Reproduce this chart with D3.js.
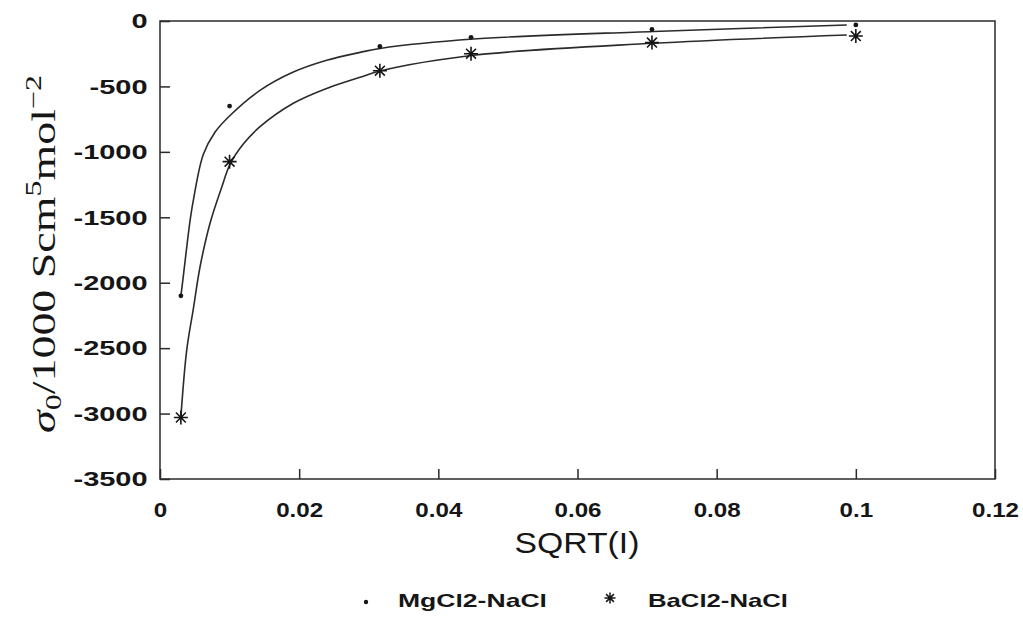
<!DOCTYPE html>
<html>
<head>
<meta charset="utf-8">
<script src="https://cdn.jsdelivr.net/npm/d3@7"></script>
<style>
  html, body { margin: 0; padding: 0; background: #fff; }
  svg { display: block; }
</style>
</head>
<body>
<svg id="chart" width="1023" height="629"></svg>
<script>
// Square root of ionic strength at each measurement
const sqrtI = [0.003, 0.01, 0.0316, 0.0447, 0.0707, 0.1];
// Measured sigma0 / 1000 for each system
const mgValues = [-2100, -650, -195, -125, -65, -30];
const baValues = [-3030, -1075, -380, -250, -165, -115];
// Fitted curves (x, y) for each system
const mgFitX = [0.003, 0.00326, 0.00431, 0.00479, 0.00622, 0.0079, 0.01006, 0.01437, 0.01916, 0.02396, 0.02875, 0.03162, 0.04503, 0.0709, 0.0987];
const mgFitY = [-2100, -1990, -1530, -1370, -1020, -850, -722, -530, -390, -300, -240, -210, -138, -80, -31];
const baFitX = [0.003, 0.00384, 0.00479, 0.00575, 0.00719, 0.00887, 0.01006, 0.01197, 0.01437, 0.01916, 0.02396, 0.02875, 0.03162, 0.04503, 0.0709, 0.0987];
const baFitY = [-3027, -2515, -2200, -1880, -1545, -1270, -1095, -940, -808, -629, -515, -430, -382, -262, -170, -107];
// Axis ticks
const xTicks = [0, 0.02, 0.04, 0.06, 0.08, 0.1, 0.12];
const xTickLabels = ["0", "0.02", "0.04", "0.06", "0.08", "0.1", "0.12"];
const yTicks = [0, -500, -1000, -1500, -2000, -2500, -3000, -3500];
const yTickLabels = ["0", "-500", "-1000", "-1500", "-2000", "-2500", "-3000", "-3500"];
const seriesNames = ["MgCl2-NaCl", "BaCl2-NaCl"];

const svg = d3.select("#chart");
const plotL = 160, plotR = 995, plotT = 21, plotB = 479;
const ink = "#161616";
const sans = "'Liberation Sans', Arial, Helvetica, sans-serif";

const x = d3.scaleLinear().domain([0, 0.12]).range([plotL, plotR]);
const y = d3.scaleLinear().domain([-3500, 0]).range([plotB, plotT]);

// Frame
svg.append("rect")
  .attr("x", plotL).attr("y", plotT)
  .attr("width", plotR - plotL).attr("height", plotB - plotT)
  .attr("fill", "none").attr("stroke", "#2a2a2a").attr("stroke-width", 1.5);

// Y axis with inward ticks
const yAxis = svg.append("g")
  .attr("transform", `translate(${plotL},0)`)
  .call(d3.axisLeft(y).tickValues(yTicks)
    .tickFormat((d, i) => yTickLabels[i])
    .tickSizeInner(-10).tickSizeOuter(0).tickPadding(9));
yAxis.select(".domain").remove();
yAxis.selectAll(".tick line").attr("stroke", "#2a2a2a").attr("stroke-width", 1.5);
yAxis.selectAll(".tick text")
  .attr("font-family", sans).attr("font-size", 21).attr("font-weight", "bold")
  .attr("fill", ink).attr("transform", "scale(1.38,1)");

// X axis with inward ticks
const xAxis = svg.append("g")
  .attr("transform", `translate(0,${plotB})`)
  .call(d3.axisBottom(x).tickValues(xTicks)
    .tickFormat((d, i) => xTickLabels[i])
    .tickSizeInner(-10).tickSizeOuter(0).tickPadding(23));
xAxis.select(".domain").remove();
xAxis.selectAll(".tick line").attr("stroke", "#2a2a2a").attr("stroke-width", 1.5);
xAxis.selectAll(".tick text")
  .attr("font-family", sans).attr("font-size", 21).attr("font-weight", "bold")
  .attr("fill", ink).attr("transform", "scale(1.15,1)");

// Horizontal stretch of a text element to a target width, around its anchor
function fitWidth(sel, width) {
  const w = sel.node().getBBox().width;
  const s = width / w;
  const ax = +sel.attr("x"), ay = +sel.attr("y");
  sel.attr("transform", `translate(${ax},${ay}) scale(${s},1) translate(${-ax},${-ay})`);
}

// X axis title
const xTitle = svg.append("text")
  .attr("x", 577).attr("y", 553)
  .attr("text-anchor", "middle")
  .attr("font-family", sans).attr("font-size", 29)
  .attr("fill", ink).text("SQRT(I)");
fitWidth(xTitle, 125);

// Y axis title (serif, with subscript and superscripts)
const yTitleG = svg.append("g").attr("transform", "translate(55,254) rotate(-90)");
const yTitle = yTitleG.append("text")
  .attr("x", 0).attr("y", 0)
  .attr("text-anchor", "middle")
  .attr("font-family", "'Liberation Serif', 'Times New Roman', serif")
  .attr("font-size", 33).attr("fill", ink);
yTitle.append("tspan").attr("font-style", "italic").text("σ");
yTitle.append("tspan").attr("font-size", 23).attr("dy", 6).text("0");
yTitle.append("tspan").attr("dy", -6).text("/1000 Scm");
yTitle.append("tspan").attr("font-size", 23).attr("dy", -14).text("5");
yTitle.append("tspan").attr("dy", 14).text("mol");
yTitle.append("tspan").attr("font-size", 23).attr("dy", -14).text("−2");
fitWidth(yTitle, 358);

// Fitted curves
const line = d3.line().x(d => x(d[0])).y(d => y(d[1])).curve(d3.curveCatmullRom.alpha(0.5));
const mgFit = mgFitX.map((v, i) => [v, mgFitY[i]]);
const baFit = baFitX.map((v, i) => [v, baFitY[i]]);
[mgFit, baFit].forEach(pts => {
  svg.append("path").datum(pts)
    .attr("d", line)
    .attr("fill", "none").attr("stroke", "#2b2b2b").attr("stroke-width", 1.6);
});

// Asterisk marker path
function asterisk(r) {
  let d = "";
  for (let k = 0; k < 4; k++) {
    const a = k * Math.PI / 4;
    const dx = r * Math.sin(a), dy = r * Math.cos(a);
    d += `M${-dx},${-dy}L${dx},${dy}`;
  }
  return d;
}

// MgCl2 points: small dots
svg.append("g").selectAll("circle")
  .data(sqrtI.map((v, i) => [v, mgValues[i]]))
  .join("circle")
  .attr("cx", d => x(d[0])).attr("cy", d => y(d[1]))
  .attr("r", 2.4).attr("fill", ink);

// BaCl2 points: asterisks
svg.append("g").selectAll("path")
  .data(sqrtI.map((v, i) => [v, baValues[i]]))
  .join("path")
  .attr("transform", d => `translate(${x(d[0])},${y(d[1])})`)
  .attr("d", asterisk(7))
  .attr("stroke", ink).attr("stroke-width", 1.6).attr("fill", "none");

// Legend
svg.append("circle").attr("cx", 366).attr("cy", 602).attr("r", 2.2).attr("fill", ink);
const leg1 = svg.append("text")
  .attr("x", 398).attr("y", 607)
  .attr("font-family", sans).attr("font-size", 19).attr("font-weight", "bold")
  .attr("fill", ink).text(seriesNames[0]);
fitWidth(leg1, 149);
svg.append("path")
  .attr("transform", "translate(610,598)")
  .attr("d", asterisk(5.5))
  .attr("stroke", ink).attr("stroke-width", 1.5).attr("fill", "none");
const leg2 = svg.append("text")
  .attr("x", 648).attr("y", 607)
  .attr("font-family", sans).attr("font-size", 19).attr("font-weight", "bold")
  .attr("fill", ink).text(seriesNames[1]);
fitWidth(leg2, 140);
</script>
</body>
</html>
